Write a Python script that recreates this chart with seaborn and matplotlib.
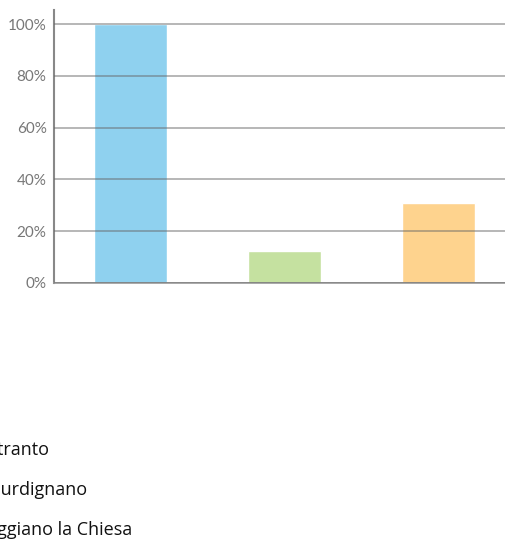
import matplotlib
matplotlib.use("Agg")
import matplotlib.pyplot as plt
import seaborn as sns
import pandas as pd
from matplotlib.ticker import FuncFormatter

categories = ["Otranto", "Giurdignano", "Uggiano la Chiesa"]
values = [100, 12.5, 31]
colors = ["#8fd1ef", "#c5e1a0", "#fed38e"]
yticks = [0, 20, 40, 60, 80, 100]

sns.set_style("white")
plt.rcParams['font.family'] = ['Lato', 'DejaVu Sans']

W, H = 505, 542
fig = plt.figure(figsize=(W / 100, H / 100), dpi=100)
left, right = 53.5, 515.5
bottom, top = 283, 10
ax = fig.add_axes([left / W, 1 - bottom / H, (right - left) / W, (bottom - top) / H])

df = pd.DataFrame({"cat": categories, "val": values})
sns.barplot(data=df, x="cat", y="val", hue="cat", palette=colors, width=0.47,
            legend=False, ax=ax, saturation=1, zorder=1)

ax.set_xlim(-0.5, 2.5)
ax.set_ylim(0, 100 * (bottom - top) / (bottom - 24))
ax.set_yticks(yticks)
ax.yaxis.set_major_formatter(FuncFormatter(lambda v, p: f"{int(v)}%"))
ax.tick_params(axis="y", length=0, pad=5, labelsize=11, labelcolor="#777777")
ax.set_xticks([])
ax.set_xlabel("")
ax.set_ylabel("")
ax.grid(axis="y", color="#666666", linewidth=1.2, alpha=0.55, zorder=3)
ax.set_axisbelow(False)
for s in ["top", "right"]:
    ax.spines[s].set_visible(False)
ax.spines["left"].set_color("#888888")
ax.spines["left"].set_linewidth(1.5)
ax.spines["bottom"].set_color("#999999")
ax.spines["bottom"].set_linewidth(1.2)

ys = [450, 490, 530]
for lab, y in zip(categories, ys):
    fig.text(-16 / W, 1 - y / H, lab, ha="left", va="center", fontsize=13,
             color="#111111", family=["Open Sans", "DejaVu Sans"])

fig.savefig("out.png", dpi=100)
